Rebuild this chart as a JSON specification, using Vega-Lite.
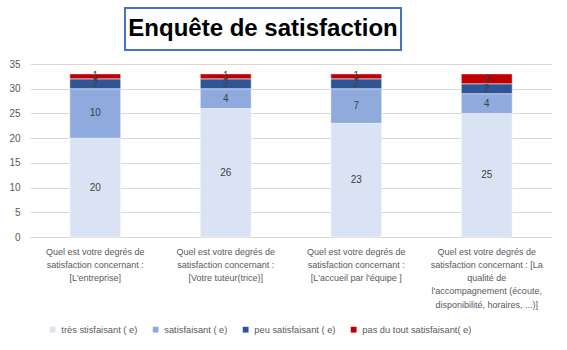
{
  "$schema": "https://vega.github.io/schema/vega-lite/v6.json",
  "padding": {"left": 8, "right": 0, "top": 7, "bottom": 0},
  "background": "white",
  "config": {
    "font": "Liberation Sans",
    "view": {"stroke": null},
    "axis": {"labelColor": "#595959", "labelFont": "Liberation Sans"},
    "legend": {"labelFont": "Liberation Sans"}
  },
  "spacing": 8,
  "datasets": {
    "answers": [
      {"question": "Quel est votre degrés de|satisfaction concernant :|[L'entreprise]", "level": "très stisfaisant ( e)", "rank": 1, "count": 20},
      {"question": "Quel est votre degrés de|satisfaction concernant :|[L'entreprise]", "level": "satisfaisant ( e)", "rank": 2, "count": 10},
      {"question": "Quel est votre degrés de|satisfaction concernant :|[L'entreprise]", "level": "peu satisfaisant ( e)", "rank": 3, "count": 2},
      {"question": "Quel est votre degrés de|satisfaction concernant :|[L'entreprise]", "level": "pas du tout satisfaisant( e)", "rank": 4, "count": 1},
      {"question": "Quel est votre degrés de|satisfaction concernant :|[Votre tuteur(trice)]", "level": "très stisfaisant ( e)", "rank": 1, "count": 26},
      {"question": "Quel est votre degrés de|satisfaction concernant :|[Votre tuteur(trice)]", "level": "satisfaisant ( e)", "rank": 2, "count": 4},
      {"question": "Quel est votre degrés de|satisfaction concernant :|[Votre tuteur(trice)]", "level": "peu satisfaisant ( e)", "rank": 3, "count": 2},
      {"question": "Quel est votre degrés de|satisfaction concernant :|[Votre tuteur(trice)]", "level": "pas du tout satisfaisant( e)", "rank": 4, "count": 1},
      {"question": "Quel est votre degrés de|satisfaction concernant :|[L'accueil par l'équipe ]", "level": "très stisfaisant ( e)", "rank": 1, "count": 23},
      {"question": "Quel est votre degrés de|satisfaction concernant :|[L'accueil par l'équipe ]", "level": "satisfaisant ( e)", "rank": 2, "count": 7},
      {"question": "Quel est votre degrés de|satisfaction concernant :|[L'accueil par l'équipe ]", "level": "peu satisfaisant ( e)", "rank": 3, "count": 2},
      {"question": "Quel est votre degrés de|satisfaction concernant :|[L'accueil par l'équipe ]", "level": "pas du tout satisfaisant( e)", "rank": 4, "count": 1},
      {"question": "Quel est votre degrés de|satisfaction concernant : [La|qualité de|l'accompagnement (écoute,|disponibilité, horaires, ...)]", "level": "très stisfaisant ( e)", "rank": 1, "count": 25},
      {"question": "Quel est votre degrés de|satisfaction concernant : [La|qualité de|l'accompagnement (écoute,|disponibilité, horaires, ...)]", "level": "satisfaisant ( e)", "rank": 2, "count": 4},
      {"question": "Quel est votre degrés de|satisfaction concernant : [La|qualité de|l'accompagnement (écoute,|disponibilité, horaires, ...)]", "level": "peu satisfaisant ( e)", "rank": 3, "count": 2},
      {"question": "Quel est votre degrés de|satisfaction concernant : [La|qualité de|l'accompagnement (écoute,|disponibilité, horaires, ...)]", "level": "pas du tout satisfaisant( e)", "rank": 4, "count": 2}
    ],
    "heading": [{"title": "Enquête de satisfaction"}],
    "blank": [{"title": ""}]
  },
  "vconcat": [
    {
      "spacing": 16,
      "hconcat": [
        {
          "width": 78,
          "height": 42,
          "data": {"name": "blank"},
          "mark": {"type": "text"},
          "encoding": {"text": {"field": "title"}}
        },
        {
          "width": 276,
          "height": 42,
          "view": {"stroke": "#4472C4", "strokeWidth": 2},
          "data": {"name": "heading"},
          "mark": {"type": "text", "font": "Liberation Sans", "fontWeight": "bold", "fontSize": 24, "color": "#000000", "baseline": "middle", "align": "center"},
          "encoding": {"text": {"field": "title"}}
        }
      ]
    },
    {
      "width": 522,
      "height": 173,
      "data": {"name": "answers"},
      "encoding": {
        "x": {
          "field": "question",
          "type": "nominal",
          "sort": null,
          "scale": {"paddingInner": 0.61, "paddingOuter": 0.305},
          "axis": {
            "title": null,
            "labelAngle": 0,
            "labelExpr": "split(datum.label, '|')",
            "labelFontSize": 9,
            "labelLineHeight": 13.3,
            "labelPadding": 10,
            "labelBaseline": "top",
            "ticks": false,
            "domain": true,
            "domainColor": "#D9D9D9",
            "labelLimit": 200
          }
        },
        "y": {
          "field": "count",
          "type": "quantitative",
          "stack": "zero",
          "scale": {"domain": [0, 35]},
          "axis": {
            "title": null,
            "values": [0, 5, 10, 15, 20, 25, 30, 35],
            "domain": false,
            "ticks": false,
            "labelPadding": 10,
            "labelFontSize": 10,
            "gridColor": "#D9D9D9"
          }
        },
        "order": {"field": "rank", "type": "quantitative"}
      },
      "layer": [
        {
          "mark": {"type": "bar", "stroke": "white", "strokeWidth": 0.5},
          "encoding": {
            "color": {
              "field": "level",
              "type": "nominal",
              "sort": ["très stisfaisant ( e)", "satisfaisant ( e)", "peu satisfaisant ( e)", "pas du tout satisfaisant( e)"],
              "scale": {
                "domain": ["très stisfaisant ( e)", "satisfaisant ( e)", "peu satisfaisant ( e)", "pas du tout satisfaisant( e)"],
                "range": ["#DAE3F3", "#8FAADC", "#2F5597", "#C00000"]
              },
              "legend": {
                "title": " ",
                "titleOrient": "left",
                "titlePadding": 18,
                "titleFontSize": 9,
                "orient": "bottom",
                "direction": "horizontal",
                "symbolType": "square",
                "symbolSize": 34,
                "symbolStrokeWidth": 0,
                "labelFontSize": 9.3,
                "labelColor": "#595959",
                "columnPadding": 13,
                "offset": 15,
                "labelLimit": 200
              }
            }
          }
        },
        {
          "mark": {"type": "text", "fontSize": 10, "color": "#404040", "baseline": "middle"},
          "encoding": {
            "y": {"field": "count", "type": "quantitative", "stack": "zero", "bandPosition": 0.5},
            "text": {"field": "count", "type": "quantitative"}
          }
        }
      ]
    }
  ]
}
